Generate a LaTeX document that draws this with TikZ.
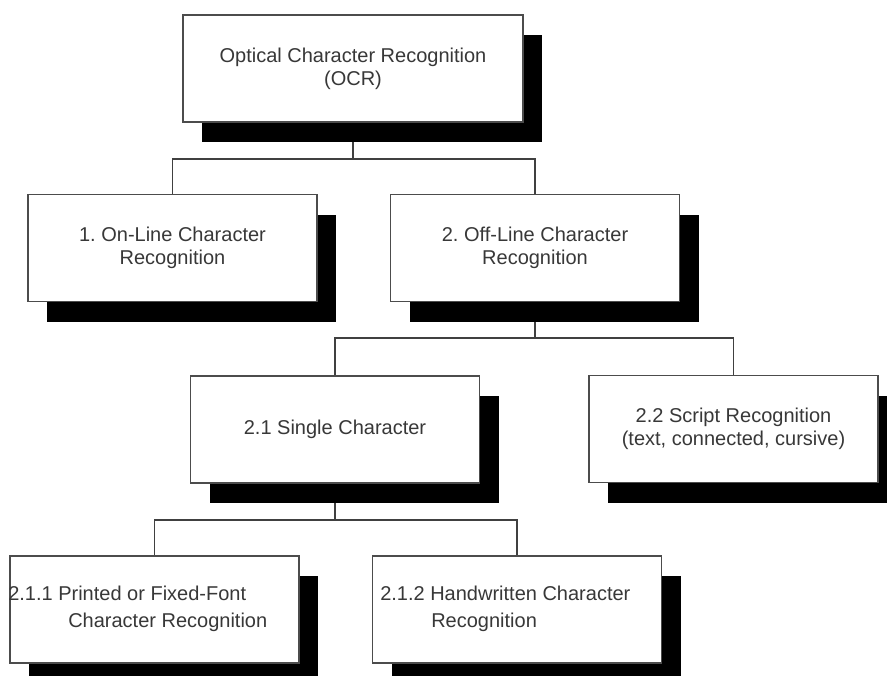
\documentclass[tikz,border=0pt]{standalone}
\usepackage{fontspec}
\setmainfont{Liberation Sans}
\usetikzlibrary{shadows,backgrounds}
\pgfdeclarelayer{bottom}
\pgfsetlayers{bottom,background,main}
\frenchspacing
\begin{document}
\begin{tikzpicture}[x=0.75pt,y=-0.75pt,
  lbl/.style={font=\fontsize{15}{17}\selectfont, text=black!78},
  box/.style={lbl, draw=black!70, line width=0.8pt, fill=white, inner sep=0pt,
    minimum width=216.75pt, minimum height=80.25pt, align=center,
    drop shadow={shadow xshift=14.25pt, shadow yshift=-15pt, opacity=1, fill=black}},
  conn/.style={draw=black!75, line width=0.9pt},
  txt/.style={lbl, inner sep=0pt, anchor=base west}]
\useasboundingbox (0,0) rectangle (887,675);
\begin{pgfonlayer}{bottom}
\fill[white] (0,0) rectangle (887,675);
\end{pgfonlayer}

\node[box, minimum width=255pt] (ocr) at (353,68.5) {Optical Character Recognition\\(OCR)};
\node[box] (on) at (172.5,248) {1. On-Line Character\\Recognition};
\node[box] (off) at (535,248) {2. Off-Line Character\\Recognition};
\node[box] (single) at (335,429.5) {2.1 Single Character};
\node[box] (script) at (733.5,429) {2.2 Script Recognition\\(text, connected, cursive)};
\node[box] (printed) at (154.5,609.5) {};
\node[box] (hand) at (517,609.5) {};

\node[txt] (p1) at (8,600) {2.1.1 Printed or Fixed-Font};
\node[txt] (p2) at (68,627) {Character Recognition};
\node[txt] (h1) at (380,600) {2.1.2 Handwritten Character};
\node[txt] (h2) at (431,627) {Recognition};

\coordinate (j0) at (353,159);
\coordinate (j1) at (535,338);
\coordinate (j2) at (335,520);

\begin{pgfonlayer}{background}
\draw[conn] (ocr.south) -- (j0);
\draw[conn] (j0) -| (on.north);
\draw[conn] (j0) -| (off.north);
\draw[conn] (off.south) -- (j1);
\draw[conn] (j1) -| (single.north);
\draw[conn] (j1) -| (script.north);
\draw[conn] (single.south) -- (j2);
\draw[conn] (j2) -| (printed.north);
\draw[conn] (j2) -| (hand.north);
\end{pgfonlayer}
\end{tikzpicture}
\end{document}
